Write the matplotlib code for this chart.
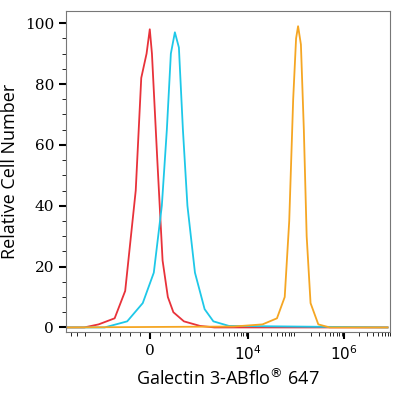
import numpy as np
import matplotlib
matplotlib.use('Agg')
import matplotlib.pyplot as plt

# histogram traces (fluorescence, relative count)
red_x = [-5000, -2090, -1050, -700, -490, -280, -170, -64, 0, 43, 150, 255, 360, 470, 680, 1000, 2000, 8e6]
red_y = [0, 0, 1, 3, 12, 45, 82, 90, 98, 90, 55, 22, 10, 5, 2, 0.5, 0, 0]
cyan_x = [-5000, -900, -450, -140, 80, 240, 340, 420, 500, 580, 660, 750, 900, 1250, 1900, 4000, 8e6]
cyan_y = [0, 0, 2, 8, 18, 40, 65, 90, 97, 92, 65, 40, 18, 6, 2, 0.5, 0]
orange_x = [-5000, 5000, 2e4, 4e4, 5.8e4, 7.2e4, 8.7e4, 1e5, 1.1e5, 1.26e5, 1.45e5, 1.66e5, 2e5, 2.9e5, 5e5, 8e6]
orange_y = [0, 0.3, 1, 3, 10, 35, 75, 95, 99, 93, 65, 30, 8, 1, 0, 0]

xticks = [0, 1e4, 1e6]
xticklabels = ['0', r'$10^4$', r'$10^6$']
yticks = [0, 20, 40, 60, 80, 100]

fig = plt.figure(figsize=(4, 4), dpi=100)
ax = fig.add_axes([0.165, 0.17, 0.81, 0.8025])

ax.plot(red_x, red_y, color='#e8323a', lw=1.3)
ax.plot(cyan_x, cyan_y, color='#1ec8e8', lw=1.3)
ax.plot(orange_x, orange_y, color='#f5a623', lw=1.3)

ax.set_xscale('symlog', linthresh=1000, linscale=0.94)
ax.set_xlim(-5000, 7.9e6)
ax.set_ylim(-1.5, 104)
ax.set_xticks(xticks)
ax.set_xticklabels(xticklabels, fontfamily='DejaVu Serif', fontsize=11)
ax.set_yticks(yticks)
ax.set_yticklabels([str(v) for v in yticks], fontfamily='DejaVu Serif', fontsize=11)
ax.set_yticks(np.arange(0, 101, 5), minor=True)
minor = [-4000, -3000, -2000, -1000, -800, -600, -400, -200, 200, 400, 600, 800, 1000]
for d in [1e3, 1e4, 1e5, 1e6]:
    minor += [d * k for k in range(2, 10)]
ax.set_xticks(minor, minor=True)
ax.tick_params(which='major', length=5, width=1.5)
ax.tick_params(which='minor', length=3)
for s in ax.spines.values():
    s.set_color('#777777')

ax.set_xlabel('Galectin 3-ABflo$^{®}$ 647', fontfamily='Open Sans', fontsize=13)
ax.set_ylabel('Relative Cell Number', fontfamily='Open Sans', fontsize=13)

fig.savefig('out.png', dpi=100)
